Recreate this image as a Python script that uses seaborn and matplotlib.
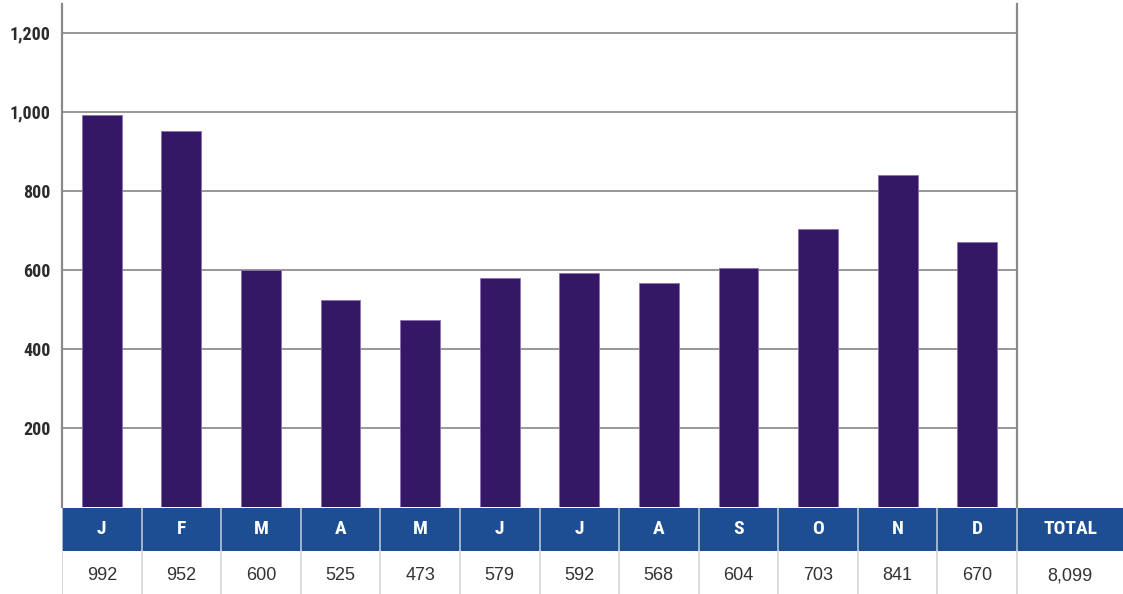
"""Monthly totals bar chart with a summary table strip underneath."""

import matplotlib
matplotlib.use("Agg")
import matplotlib.pyplot as plt
import pandas as pd
import seaborn as sns
from matplotlib import font_manager

months = ["J", "F", "M", "A", "M", "J", "J", "A", "S", "O", "N", "D"]
values = [992, 952, 600, 525, 473, 579, 592, 568, 604, 703, 841, 670]
total_label = "TOTAL"
y_ticks = [200, 400, 600, 800, 1000, 1200]

BAR_COLOR = "#341865"
HEADER_BLUE = "#1d4e91"
GRID_GRAY = "#7a7a7a"

sns.set_theme(style="white")
plt.rcParams["font.family"] = ["Liberation Sans", "DejaVu Sans"]


def pick_condensed():
    """Find a narrow bold face among the installed fonts."""
    names = sorted({f.name for f in font_manager.fontManager.ttflist})
    for want in ["Roboto Condensed", "Liberation Sans Narrow", "DejaVu Sans Condensed",
                 "Open Sans Condensed", "Noto Sans Condensed"]:
        if want in names:
            return {"family": want, "stretch": "normal"}
    for f in font_manager.fontManager.ttflist:
        if "condensed" in str(f.stretch) or "Condensed" in f.name or "Narrow" in f.name:
            return {"family": f.name, "stretch": f.stretch}
    return {"family": "DejaVu Sans", "stretch": "condensed"}


cond = pick_condensed()
print(cond)

W, H = 1123, 594
fig = plt.figure(figsize=(W / 100, H / 100), dpi=100)

# chart axes (pixel geometry from the reference)
left, right, top, base = 62, 1017, 4, 507
ax = fig.add_axes([left / W, (H - base) / H, (right - left) / W, (base - top) / H])

df = pd.DataFrame({"pos": range(len(months)), "value": values})
sns.barplot(data=df, x="pos", y="value", color=BAR_COLOR, width=0.5,
            edgecolor="#8e6fb5", linewidth=0.6, saturation=1, ax=ax)

ax.set_xlim(-0.5, len(months) - 0.5)
ax.set_ylim(0, 1273)
ax.set_yticks(y_ticks)
ax.set_yticklabels([f"{v:,}" for v in y_ticks], fontfamily=cond["family"],
                   fontstretch=cond["stretch"], fontweight="bold", fontsize=13,
                   color="#2b2b2b")
ax.set_xticks([])
ax.set_xlabel("")
ax.set_ylabel("")
ax.tick_params(axis="y", length=0, pad=8)
for y in y_ticks:
    ax.axhline(y, color=GRID_GRAY, linewidth=1.1, zorder=0)
for side in ["top", "bottom"]:
    ax.spines[side].set_visible(False)
for side in ["left", "right"]:
    ax.spines[side].set_color("#8a8a8a")
    ax.spines[side].set_linewidth(1.6)

# table strip: same x scale as the bars, TOTAL gets the remaining width
unit = (right - left) / len(months)
tab_right = len(months) - 0.5 + (W - right) / unit
tax = fig.add_axes([left / W, 0, (W - left) / W, (H - base - 1) / H])
tax.set_xlim(-0.5, tab_right)
tax.set_ylim(0, 2)
tax.axis("off")

labels = months + [total_label]
cells = [str(v) for v in values] + [f"{sum(values):,}"]
edges = [i - 0.5 for i in range(len(months) + 1)] + [tab_right]
for i, (lab, val) in enumerate(zip(labels, cells)):
    x0, x1 = edges[i], edges[i + 1]
    tax.add_patch(plt.Rectangle((x0, 1), x1 - x0, 1, facecolor=HEADER_BLUE,
                                edgecolor="none"))
    xc = (x0 + x1) / 2
    tax.text(xc, 1.5, lab, ha="center", va="center", color="white",
             fontfamily=cond["family"], fontstretch=cond["stretch"],
             fontweight="bold", fontsize=14)
    tax.text(xc, 0.42, val, ha="center", va="center", color="#333333",
             fontsize=13)
    # separators
    tax.plot([x0, x0], [1, 2], color="#b9c6dc", linewidth=1.2)
    tax.plot([x0, x0], [0, 1], color="#d6d6d6", linewidth=1.2)

fig.savefig("out.png", dpi=100)
